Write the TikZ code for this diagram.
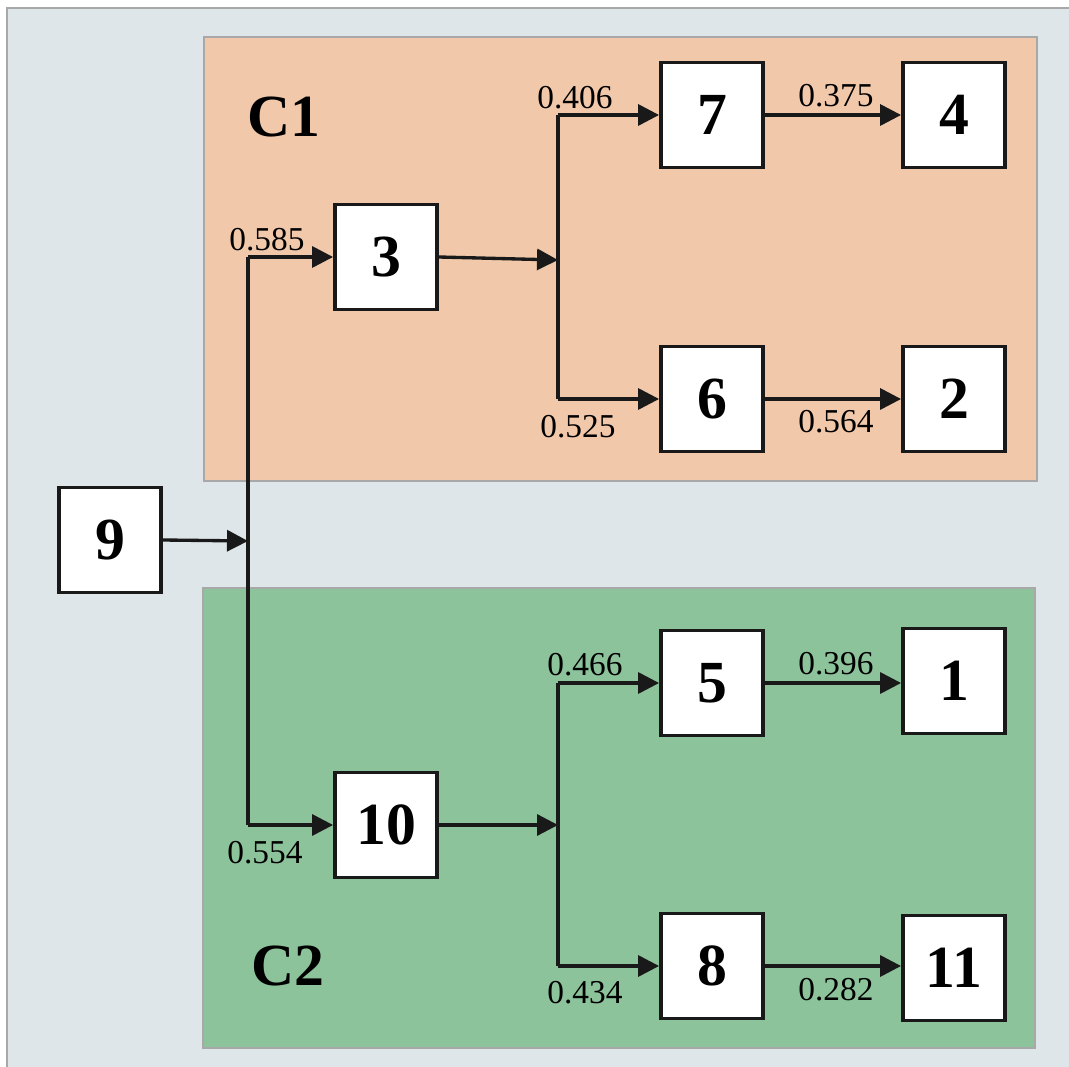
\documentclass[tikz,border=0pt]{standalone}
\usepackage{fontspec}
\setmainfont{Liberation Serif}
\usetikzlibrary{arrows.meta}
\definecolor{bgpanel}{HTML}{DFE6EA}
\definecolor{cone}{HTML}{F2C8AA}
\definecolor{ctwo}{HTML}{8CC39B}
\definecolor{edgegrey}{HTML}{A8A8A8}
\tikzset{
  box/.style={draw=black!90, line width=2.2pt, fill=white, minimum width=2.04cm, minimum height=2.1cm, inner sep=0pt, font=\fontsize{34}{34}\selectfont\bfseries},
  conn/.style={line width=1.9pt, draw=black!90},
  arr/.style={conn, -{Triangle[length=0.42cm,width=0.42cm]}},
  wlabel/.style={font=\fontsize{19}{19}\selectfont, inner sep=0pt},
  cluster/.style={font=\fontsize{34}{34}\selectfont\bfseries, inner sep=0pt}
}
\begin{document}
\begin{tikzpicture}[x=0.02cm,y=-0.02cm]
\useasboundingbox (0,0) rectangle (1069,1067);
\fill[white] (0,0) rectangle (1069,1067);
\fill[bgpanel] (7,8) rectangle (1069,1067);
\draw[edgegrey, line width=0.8pt] (7,1067) -- (7,8) -- (1069,8);
\filldraw[fill=cone, draw=edgegrey, line width=0.6pt] (204,37) rectangle (1037,481);
\filldraw[fill=ctwo, draw=edgegrey, line width=0.6pt] (203,588) rectangle (1035,1048);
\node[cluster] (c1) at (284,117) {C1};
\node[cluster] (c2) at (288,966) {C2};
% nodes
\node[box] (n9) at (110,540) {9};
\node[box] (n3) at (386,257) {3};
\node[box] (n7) at (712,115) {7};
\node[box] (n4) at (954,115) {4};
\node[box] (n6) at (712,399) {6};
\node[box] (n2) at (954,399) {2};
\node[box] (n10) at (386,825) {10};
\node[box] (n5) at (712,683) {5};
\node[box] (n1) at (954,681) {1};
\node[box] (n8) at (712,966) {8};
\node[box] (n11) at (954,968) {11};
% junction coordinates
\coordinate (j0) at (248,541);
\coordinate (ja) at (558,260);
\coordinate (jb) at (558,825);
% trunk
\draw[conn] (248,257) -- (248,825);
\draw[arr] (n9.east) -- (j0);
\draw[arr] (248,257) -- (n3.west);
\draw[arr] (248,825) -- (n10.west);
% C1 branches
\draw[arr] (n3.east) -- (ja);
\draw[conn] (558,115) -- (558,399);
\draw[arr] (558,115) -- (n7.west);
\draw[arr] (558,399) -- (n6.west);
\draw[arr] (n7.east) -- (n4.west);
\draw[arr] (n6.east) -- (n2.west);
% C2 branches
\draw[arr] (n10.east) -- (jb);
\draw[conn] (558,683) -- (558,966);
\draw[arr] (558,683) -- (n5.west);
\draw[arr] (558,966) -- (n8.west);
\draw[arr] (n5.east) -- (n1.west |- n5.east);
\draw[arr] (n8.east) -- (n11.west |- n8.east);
% labels
\node[wlabel] (l585) at (267,240) {0.585};
\node[wlabel] (l554) at (265,853) {0.554};
\node[wlabel] (l406) at (575,98) {0.406};
\node[wlabel] (l525) at (578,427) {0.525};
\node[wlabel] (l375) at (836,96) {0.375};
\node[wlabel] (l564) at (836,422) {0.564};
\node[wlabel] (l466) at (585,665) {0.466};
\node[wlabel] (l434) at (585,993) {0.434};
\node[wlabel] (l396) at (836,664) {0.396};
\node[wlabel] (l282) at (836,990) {0.282};
\end{tikzpicture}
\end{document}
